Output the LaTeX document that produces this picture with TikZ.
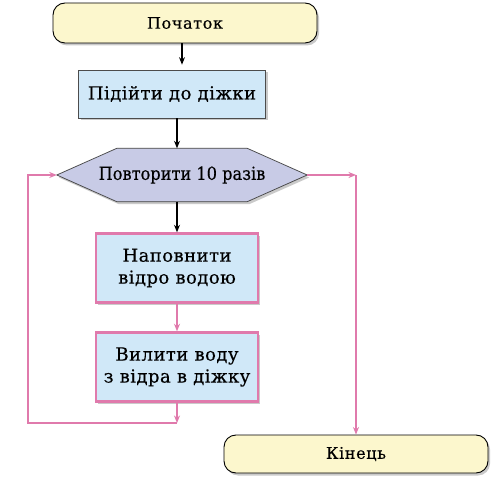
\documentclass[tikz,border=0pt]{standalone}
\usepackage{fontspec}
\setmainfont{DejaVu Serif}
\newfontfamily\termfont[LetterSpace=4,FakeBold=0.4]{DejaVu Serif}
\newfontfamily\boxfont[LetterSpace=2.5,FakeBold=0.4]{DejaVu Serif}
\newfontfamily\hexfont[FakeStretch=0.9,FakeBold=0.4]{DejaVu Serif}
\usetikzlibrary{arrows.meta,positioning,shadows,backgrounds}
\definecolor{termfill}{HTML}{FCF7CD}
\definecolor{boxfill}{HTML}{D0E8F8}
\definecolor{hexfill}{HTML}{C8CBE6}
\definecolor{loopline}{HTML}{E07AAC}
\begin{document}
\begin{tikzpicture}[x=1pt,y=-1pt,>={Stealth[length=7.5pt,width=6pt]},
  sh/.style={drop shadow={shadow xshift=2pt,shadow yshift=-2.5pt,fill=black!35,opacity=.6}},
  term/.style={draw=black,line width=.9pt,fill=termfill,rounded corners=12pt,minimum width=264pt,font=\termfont\fontsize{16}{19}\selectfont,sh},
  act/.style={draw=black!70,line width=.7pt,fill=boxfill,minimum width=187pt,minimum height=48pt,font=\boxfont\fontsize{18}{22}\selectfont,sh},
  body/.style={draw=loopline,line width=2.4pt,fill=boxfill,minimum width=162pt,minimum height=69pt,align=center,font=\boxfont\fontsize{18}{22}\selectfont,sh},
  hex/.style={minimum width=250pt,minimum height=53pt,inner sep=0pt,font=\hexfont\fontsize{18}{21}\selectfont},
  hexline/.style={draw=black!75,line width=.7pt,fill=hexfill,sh},
  pk/.style={draw=loopline,line width=1.8pt},
  bk/.style={->,line width=1.1pt}]
\useasboundingbox (0,0) rectangle (498,486);
\node[term,minimum height=40pt] (start) at (185,23) {Початок};
\node[act] (walk) at (172,94) {Підійти до діжки};
\node[hex] (rep) at (182,175) {Повторити 10 разів};
\begin{scope}[on background layer]
\path[hexline] (rep.west)--([xshift=60pt]rep.north west)--([xshift=-60pt]rep.north east)
  --(rep.east)--([xshift=-60pt]rep.south east)--([xshift=60pt]rep.south west)--cycle;
\end{scope}
\node[body] (fill) at (177,268) {Наповнити\\ відро водою};
\node[body] (pour) at (177,367) {Вилити воду\\ з відра в діжку};
\node[term,minimum height=38pt] (fin) at (356,454) {Кінець};
\coordinate (jn) at (177,423); \coordinate (lc) at (28,423);
\coordinate (rt) at (356,175);
\draw[bk,shorten >=5pt] (start.south-|182,0)--(walk.north-|182,0);
\draw[bk] (walk.south-|fill)--(rep.north-|fill);
\draw[bk] (rep.south-|fill)--(fill);
\draw[pk,->] (fill)--(pour); \draw[pk,->] (pour)--(jn);
\draw[pk,->] (jn)--(lc)|-(rep.west);
\draw[pk,->] (rep.east)--(rt); \draw[pk,->] (rt)--(fin);
\end{tikzpicture}
\end{document}
